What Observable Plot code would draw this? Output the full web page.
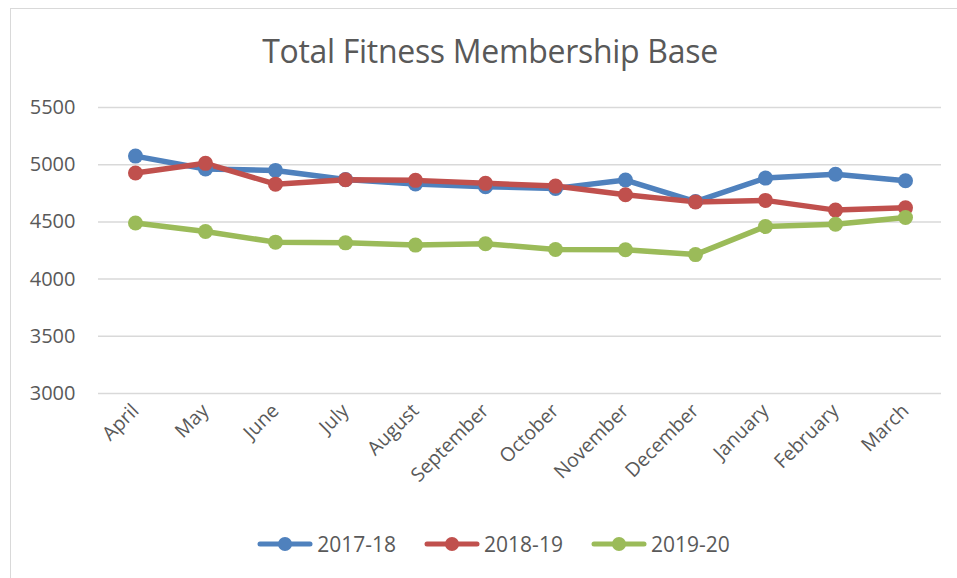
<!DOCTYPE html>
<html>
<head>
<meta charset="utf-8">
<script src="https://cdn.jsdelivr.net/npm/d3@7"></script>
<script src="https://cdn.jsdelivr.net/npm/@observablehq/plot@0.6"></script>
<style>
  html, body { margin: 0; padding: 0; background: #fff; overflow: hidden; }
  #wrap { position: relative; width: 957px; height: 578px; overflow: hidden; font-family: "Open Sans", sans-serif; color: #595959; }
  #frame { position: absolute; left: 10px; top: 8px; width: 980px; height: 600px; border: 1px solid #d9d9d9; box-sizing: border-box; }
  #title { position: absolute; left: 0; width: 980px; top: 29px; text-align: center; font-size: 32px; color: #595959; letter-spacing: -0.3px; }
  #chart { position: absolute; left: 0; top: 0; }
  #legend { position: absolute; top: 530px; left: 0; width: 987px; display: flex; justify-content: center; gap: 28px; font-size: 21px; color: #595959; }
  .item { display: flex; align-items: center; gap: 4px; }
</style>
</head>
<body>
<div id="wrap">
  <div id="frame"></div>
  <div id="chart"></div>
  <div id="title">Total Fitness Membership Base</div>
  <div id="legend"></div>
</div>
<script>
const months = ["April","May","June","July","August","September","October","November","December","January","February","March"];
const seriesNames = ["2017-18","2018-19","2019-20"];
const colors = ["#4F81BD","#C0504D","#9BBB59"];
const v1718 = [5075, 4962, 4950, 4870, 4832, 4807, 4793, 4866, 4678, 4883, 4916, 4860];
const v1819 = [4927, 5012, 4830, 4869, 4863, 4837, 4813, 4737, 4675, 4688, 4603, 4623];
const v1920 = [4491, 4416, 4323, 4317, 4297, 4309, 4259, 4257, 4214, 4460, 4480, 4539];
const yTicks = [3000, 3500, 4000, 4500, 5000, 5500];

const allValues = [v1718, v1819, v1920];
const data = [];
seriesNames.forEach((s, i) => months.forEach((m, j) => data.push({series: s, month: m, value: allValues[i][j]})));

const chart = Plot.plot({
  width: 957,
  height: 578,
  marginLeft: 98,
  marginRight: 16,
  marginTop: 107,
  marginBottom: 185,
  style: {fontFamily: "Open Sans, sans-serif", fontSize: "19px", color: "#595959", background: "transparent"},
  x: {type: "point", domain: months, padding: 0.5, label: null},
  y: {domain: [3000, 5500], label: null},
  color: {domain: seriesNames, range: colors},
  marks: [
    Plot.gridY(yTicks, {stroke: "#d9d9d9", strokeOpacity: 1, strokeWidth: 1.5}),
    Plot.axisY(yTicks, {tickSize: 0, tickPadding: 23, fontSize: 20, fill: "#595959", label: null, tickFormat: d => String(d)}),
    Plot.axisX({tickSize: 0, tickRotate: -45, tickPadding: 14, fontSize: 19.5, fill: "#595959", label: null}),
    Plot.line(data, {x: "month", y: "value", z: "series", stroke: "series", strokeWidth: 5.5, strokeLinecap: "round", strokeLinejoin: "round"}),
    Plot.dot(data, {x: "month", y: "value", fill: "series", r: 7.5})
  ]
});
document.getElementById("chart").appendChild(chart);

const legend = document.getElementById("legend");
seriesNames.forEach((s, i) => {
  const item = document.createElement("div");
  item.className = "item";
  item.innerHTML = `<svg width="56" height="16"><line x1="3" y1="8" x2="53" y2="8" stroke="${colors[i]}" stroke-width="5" stroke-linecap="round"/><circle cx="28" cy="8" r="7" fill="${colors[i]}"/></svg><span>${s}</span>`;
  legend.appendChild(item);
});
</script>
</body>
</html>
